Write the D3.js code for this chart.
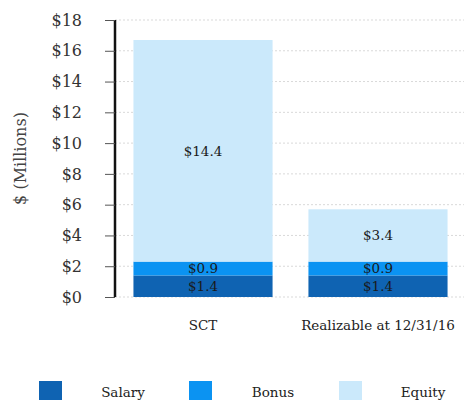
<!DOCTYPE html>
<html>
<head>
<meta charset="utf-8">
<script src="https://cdn.jsdelivr.net/npm/d3@7"></script>
<style>
  body { margin: 0; background: #fff; }
  svg text { font-family: "DejaVu Serif", "Liberation Serif", serif !important; }
</style>
</head>
<body>
<svg class="chart" width="464" height="400"></svg>
<script>
// data
const categories = ['SCT', 'Realizable at 12/31/16'];
const seriesNames = ['Salary', 'Bonus', 'Equity'];
const salary = [1.4, 1.4];
const bonus = [0.9, 0.9];
const equity = [14.4, 3.4];
const yTicks = [0, 2, 4, 6, 8, 10, 12, 14, 16, 18];

const colors = d3.scaleOrdinal()
    .domain(seriesNames)
    .range(['#0f63b2', '#0b93f2', '#cbe9fb']);

const rows = categories.map((c, i) => ({cat: c, Salary: salary[i], Bonus: bonus[i], Equity: equity[i]}));
const stacked = d3.stack().keys(seriesNames)(rows);

const svg = d3.select('.chart');
const margin = {top: 20, left: 115, right: 0, bottom: 103};
const width = 464, height = 400;

const x = d3.scaleBand()
    .domain(categories)
    .range([margin.left + 2, width])
    .paddingInner(0.205)
    .paddingOuter(0.094);

const y = d3.scaleLinear()
    .domain([0, 18])
    .range([height - margin.bottom, margin.top]);

// gridlines
svg.append('g')
    .selectAll('line')
    .data(yTicks)
    .join('line')
    .attr('x1', margin.left)
    .attr('x2', width)
    .attr('y1', d => y(d))
    .attr('y2', d => y(d))
    .attr('stroke', '#d9d9d9')
    .attr('stroke-dasharray', '2,2');

// bars
const layer = svg.append('g')
    .selectAll('g')
    .data(stacked)
    .join('g')
    .attr('fill', d => colors(d.key));

layer.selectAll('rect')
    .data(d => d)
    .join('rect')
    .attr('x', d => x(d.data.cat))
    .attr('width', x.bandwidth())
    .attr('y', d => y(d[1]))
    .attr('height', d => y(d[0]) - y(d[1]));

// value labels
const labels = svg.append('g');
stacked.forEach(s => {
    labels.selectAll(null)
        .data(s)
        .join('text')
        .attr('x', d => x(d.data.cat) + x.bandwidth() / 2)
        .attr('y', d => (y(d[0]) + y(d[1])) / 2)
        .attr('dy', '0.35em')
        .attr('text-anchor', 'middle')
        .attr('font-size', 13.5)
        .attr('fill', '#1a1a1a')
        .text(d => '$' + (d[1] - d[0]).toFixed(1));
});

// y axis
const yAxis = svg.append('g')
    .attr('transform', `translate(${margin.left},0)`)
    .call(d3.axisLeft(y).tickValues(yTicks).tickSize(10).tickPadding(23).tickFormat(d => '$' + d));
yAxis.select('.domain').attr('stroke', '#111').attr('stroke-width', 2.5)
    .attr('d', `M0,${y(18)}V${y(0)}`);
yAxis.selectAll('.tick line').attr('stroke', '#555');
yAxis.selectAll('.tick text')
    .attr('font-size', 16)
    .attr('fill', '#333');

svg.append('text')
    .attr('transform', `translate(26,${(y(0) + y(18)) / 2}) rotate(-90)`)
    .attr('text-anchor', 'middle')
    .attr('font-size', 16)
    .attr('fill', '#444')
    .text('$ (Millions)');

// x labels
svg.append('g')
    .selectAll('text')
    .data(categories)
    .join('text')
    .attr('x', d => x(d) + x.bandwidth() / 2)
    .attr('y', 330)
    .attr('text-anchor', 'middle')
    .attr('font-size', 13.5)
    .attr('fill', '#222')
    .text(d => d);

// legend
const legend = svg.append('g')
    .selectAll('g')
    .data(seriesNames)
    .join('g')
    .attr('transform', (d, i) => `translate(${39 + i * 150},381)`);
legend.append('rect')
    .attr('width', 23)
    .attr('height', 22)
    .attr('fill', d => colors(d));
legend.append('text')
    .attr('x', 84)
    .attr('y', 16)
    .attr('text-anchor', 'middle')
    .attr('font-size', 13.5)
    .attr('fill', '#222')
    .text(d => d);
</script>
</body>
</html>
